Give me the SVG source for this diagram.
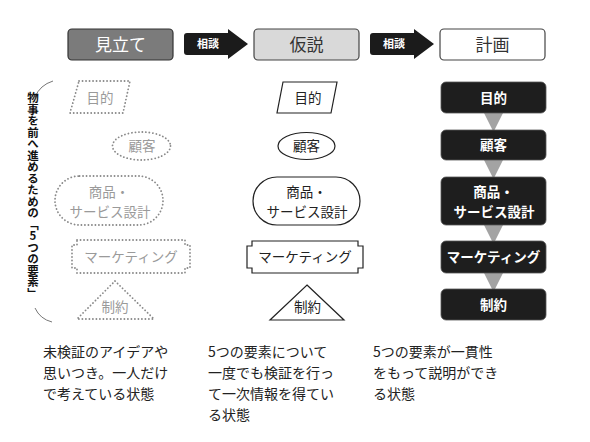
<svg xmlns="http://www.w3.org/2000/svg" width="590" height="442" viewBox="0 0 590 442">
<style>
text{font-family:"Noto Sans CJK JP","Noto Sans",sans-serif;}
.hd{font-size:17px;text-anchor:middle;}
.arr{fill:#1b1b1b;}
.arl{fill:#fff;font-size:11px;font-weight:bold;text-anchor:middle;}
.dot{fill:none;stroke:#8a8a8a;stroke-width:1.8;stroke-dasharray:0.1 3.4;stroke-linecap:round;}
.gt{fill:#9a9a9a;font-size:13.5px;text-anchor:middle;}
.ln{fill:#fff;stroke:#222;stroke-width:1.2;}
.mt{fill:#222;font-size:13.5px;text-anchor:middle;}
.bk{fill:#1e1e1e;stroke:#555;stroke-width:0.8;}
.wt{fill:#fff;font-size:13.5px;font-weight:bold;text-anchor:middle;}
.tri{fill:#a3a3a3;}
.cap{fill:#222;font-size:14px;}
</style>
<rect width="590" height="442" fill="#fff"/>

<g id="header-mitate">
<rect x="68" y="29" width="105" height="31" rx="4" fill="#7b7b7b" stroke="#333" stroke-width="1.2"/>
<text class="hd" x="120.5" y="51" fill="#fff">見立て</text>
</g>
<g id="header-kasetsu">
<rect x="254" y="29" width="105" height="31" rx="4" fill="#d9d9d9" stroke="#444" stroke-width="1.2"/>
<text class="hd" x="306.5" y="51" fill="#333">仮説</text>
</g>
<g id="header-keikaku">
<rect x="440" y="29" width="105" height="31" rx="4" fill="#fff" stroke="#444" stroke-width="1.2"/>
<text class="hd" x="492.5" y="51" fill="#333">計画</text>
</g>

<g id="connectors">
<path class="arr" d="M187,33 H228 V29 L248,44 L228,59 V55 H187 Q184,55 184,52 V36 Q184,33 187,33 Z"/>
<text class="arl" x="208" y="48">相談</text>
<path class="arr" d="M373,33 H414 V29 L434,44 L414,59 V55 H373 Q370,55 370,52 V36 Q370,33 373,33 Z"/>
<text class="arl" x="394" y="48">相談</text>
<polygon class="tri" points="483,111 504,111 493.5,132"/>
<polygon class="tri" points="483,158 504,158 493.5,179"/>
<polygon class="tri" points="483,223 504,223 493.5,244"/>
<polygon class="tri" points="483,271 504,271 493.5,292"/>
</g>

<g id="side-label">
<path d="M35,97 Q40,85 53,81" fill="none" stroke="#777" stroke-width="1"/>
<path d="M35,308 Q40,319 52,322" fill="none" stroke="#777" stroke-width="1"/>
<text x="33" y="92" style="writing-mode:vertical-rl;text-orientation:upright;" font-size="11.5" font-weight="bold" fill="#111">物事を前へ進めるための「5つの要素」</text>
</g>

<g id="left-mokuteki">
<polygon class="dot" points="79,81 130,81 123,113 70,113"/>
<text class="gt" x="100" y="103">目的</text>
</g>
<g id="left-kokyaku">
<ellipse class="dot" cx="141.5" cy="146" rx="29" ry="14"/>
<text class="gt" x="142" y="151">顧客</text>
</g>
<g id="left-shohin">
<rect class="dot" x="55" y="176" width="108" height="49" rx="24.5"/>
<text class="gt" x="109" y="197">商品・</text>
<text class="gt" x="110" y="217">サービス設計</text>
</g>
<g id="left-marketing">
<path class="dot" d="M77,240 H185 V245 H190 V268 H185 V273 H77 V268 H72 V245 H77 Z"/>
<text class="gt" x="131" y="262">マーケティング</text>
</g>
<g id="left-seiyaku">
<polygon class="dot" points="115,281 154,319 77,319"/>
<text class="gt" x="115" y="312">制約</text>
</g>

<g id="mid-mokuteki">
<polygon class="ln" points="283,82 337,82 331,113 277,113"/>
<text class="mt" x="308" y="103">目的</text>
</g>
<g id="mid-kokyaku">
<ellipse class="ln" cx="306.5" cy="146" rx="28.5" ry="13.5"/>
<text class="mt" x="306.5" y="151">顧客</text>
</g>
<g id="mid-shohin">
<rect class="ln" x="253" y="177" width="107" height="48" rx="24"/>
<text class="mt" x="306.5" y="197">商品・</text>
<text class="mt" x="307" y="217">サービス設計</text>
</g>
<g id="mid-marketing">
<path class="ln" d="M252,241 H358 V246 H363 V268 H358 V273 H252 V268 H247 V246 H252 Z"/>
<text class="mt" x="305" y="262">マーケティング</text>
</g>
<g id="mid-seiyaku">
<polygon class="ln" points="307,285 344,320 270,320"/>
<text class="mt" x="307.5" y="312">制約</text>
</g>

<g id="right-mokuteki">
<rect class="bk" x="441" y="82" width="105" height="31" rx="5"/>
<text class="wt" x="493.5" y="103">目的</text>
</g>
<g id="right-kokyaku">
<rect class="bk" x="441" y="130" width="105" height="30" rx="5"/>
<text class="wt" x="493.5" y="150">顧客</text>
</g>
<g id="right-shohin">
<rect class="bk" x="441" y="177" width="105" height="48" rx="5"/>
<text class="wt" x="493.5" y="197">商品・</text>
<text class="wt" x="494" y="217">サービス設計</text>
</g>
<g id="right-marketing">
<rect class="bk" x="441" y="241" width="105" height="32" rx="5"/>
<text class="wt" x="493.5" y="262">マーケティング</text>
</g>
<g id="right-seiyaku">
<rect class="bk" x="441" y="289" width="105" height="31" rx="5"/>
<text class="wt" x="493.5" y="310">制約</text>
</g>

<g id="captions">
<text class="cap" x="43" y="357">未検証のアイデアや</text>
<text class="cap" x="43" y="378">思いつき。一人だけ</text>
<text class="cap" x="43" y="399">で考えている状態</text>
<text class="cap" x="208" y="357">5つの要素について</text>
<text class="cap" x="208" y="378">一度でも検証を行っ</text>
<text class="cap" x="208" y="399">て一次情報を得てい</text>
<text class="cap" x="208" y="420">る状態</text>
<text class="cap" x="373" y="357">5つの要素が一貫性</text>
<text class="cap" x="373" y="378">をもって説明ができ</text>
<text class="cap" x="373" y="399">る状態</text>
</g>
</svg>
